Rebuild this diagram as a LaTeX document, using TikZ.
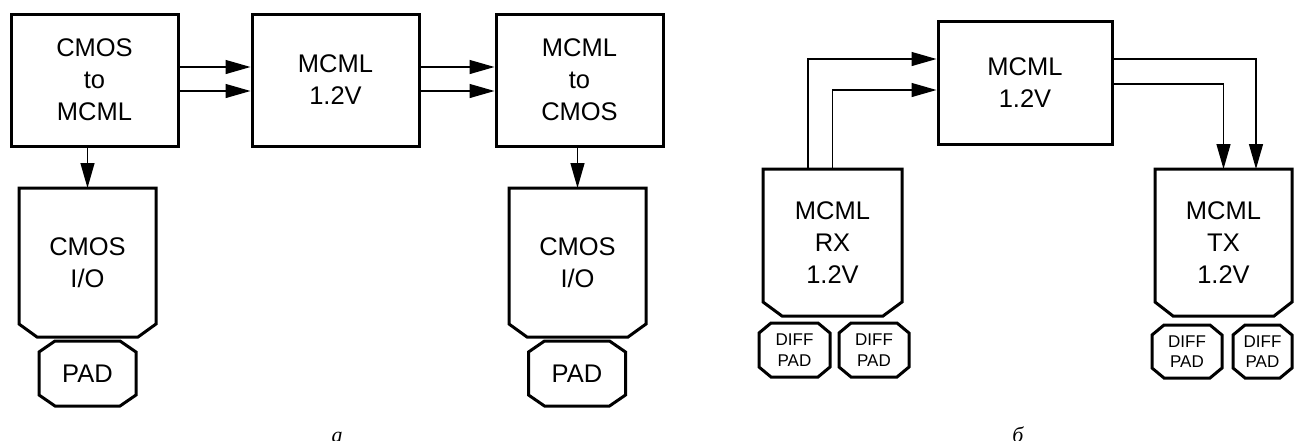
\documentclass[tikz,border=0pt]{standalone}
\usepackage{fontspec}
\setmainfont{Liberation Sans}
\newfontfamily\capfont{Liberation Serif}
\usetikzlibrary{arrows.meta}

\newcommand\bigtxt{\fontsize{25.5}{32}\selectfont}
\newcommand\smalltxt{\fontsize{17}{20.7}\selectfont}

% outline of a block whose two lower corners are cut off
% #1 node, #2 horizontal cut, #3 vertical cut
\newcommand\ioshape[3]{%
  \draw[outline] (#1.north west) -- ([yshift=#3]#1.south west)
    -- ([xshift=#2]#1.south west) -- ([xshift=-#2]#1.south east)
    -- ([yshift=#3]#1.south east) -- (#1.north east) -- cycle;}

% octagonal pad outline
\newcommand\padshape[3]{%
  \draw[outline] ([xshift=#2]#1.north west) -- ([xshift=-#2]#1.north east)
    -- ([yshift=-#3]#1.north east) -- ([yshift=#3]#1.south east)
    -- ([xshift=-#2]#1.south east) -- ([xshift=#2]#1.south west)
    -- ([yshift=#3]#1.south west) -- ([yshift=-#3]#1.north west) -- cycle;}

\tikzset{
  outline/.style={line width=3pt, line join=miter},
  blk/.style={draw, line width=3pt, minimum width=167pt, minimum height=132pt,
    inner sep=0pt, align=center, font=\bigtxt},
  iob/.style={minimum height=149pt, inner sep=0pt, outer sep=0pt,
    align=center, font=\bigtxt},
  padb/.style={minimum width=97pt, minimum height=65pt, inner sep=0pt,
    outer sep=0pt, align=center, font=\bigtxt},
  dpad/.style={minimum width=70pt, minimum height=54pt, inner sep=0pt,
    outer sep=0pt, align=center, font=\smalltxt},
  arr/.style={line width=1.3pt, -{Triangle[length=25pt,width=14pt]}},
  figcap/.style={anchor=base, font=\capfont\itshape\fontsize{22}{22}\selectfont},
}

\begin{document}
\begin{tikzpicture}[x=1pt, y=-1pt]
\useasboundingbox (0,0) rectangle (1294,440);

% ---- left scheme: CMOS I/O with MCML core ----
\node[blk] (cm2mc) at (94.5,80) {CMOS\\to\\MCML};
\node[blk] (mcA)   at (335.5,80) {MCML\\1.2V};
\node[blk] (mc2cm) at (579.5,80) {MCML\\to\\CMOS};

\node[iob, minimum width=137pt] (io1) at (87.5,262.5) {CMOS\\I/O};
\node[iob, minimum width=137pt] (io2) at (577.5,262.5) {CMOS\\I/O};
\ioshape{io1}{18pt}{13pt}
\ioshape{io2}{18pt}{13pt}

\node[padb] (pad1) at (87.5,373.5) {PAD};
\node[padb] (pad2) at (577,373.5) {PAD};
\padshape{pad1}{16pt}{11pt}
\padshape{pad2}{16pt}{11pt}

\draw[arr] ([yshift=13pt]cm2mc.east) -- ([yshift=13pt]mcA.west);
\draw[arr] ([yshift=-11pt]cm2mc.east) -- ([yshift=-11pt]mcA.west);
\draw[arr] ([yshift=13pt]mcA.east) -- ([yshift=13pt]mc2cm.west);
\draw[arr] ([yshift=-11pt]mcA.east) -- ([yshift=-11pt]mc2cm.west);
\draw[arr] (io1.north |- cm2mc.south) -- (io1.north);
\draw[arr] (io2.north |- mc2cm.south) -- (io2.north);

\node[figcap] (capa) at (337,442) {а};

% ---- right scheme: MCML receiver and transmitter ----
\node[blk, minimum width=174pt, minimum height=123pt] (mcB) at (1025,82.5) {MCML\\1.2V};

\node[iob, minimum width=139pt, minimum height=147pt] (rx) at (832.5,242.5) {MCML\\RX\\1.2V};
\node[iob, minimum width=137pt, minimum height=147pt] (tx) at (1223.5,242.5) {MCML\\TX\\1.2V};
\ioshape{rx}{19pt}{14pt}
\ioshape{tx}{18pt}{14pt}

\node[dpad, minimum width=71pt] (dp1) at (794.5,350) {DIFF\\PAD};
\node[dpad] (dp2) at (874,350) {DIFF\\PAD};
\node[dpad, minimum height=53pt] (dp3) at (1187,351.5) {DIFF\\PAD};
\node[dpad, minimum width=59pt, minimum height=53pt] (dp4) at (1262.5,351.5) {DIFF\\PAD};
\padshape{dp1}{12pt}{10pt}
\padshape{dp2}{12pt}{10pt}
\padshape{dp3}{12pt}{10pt}
\padshape{dp4}{12pt}{10pt}

\draw[arr] ([xshift=-24.5pt]rx.north) |- ([yshift=23.5pt]mcB.west);
\draw[arr] (rx.north) |- ([yshift=-7.5pt]mcB.west);
\draw[arr] ([yshift=23.5pt]mcB.east) -| ([xshift=32.5pt]tx.north);
\draw[arr] ([yshift=-1.5pt]mcB.east) -| (tx.north);

\node[figcap] (capb) at (1018,442) {б};
\end{tikzpicture}
\end{document}
